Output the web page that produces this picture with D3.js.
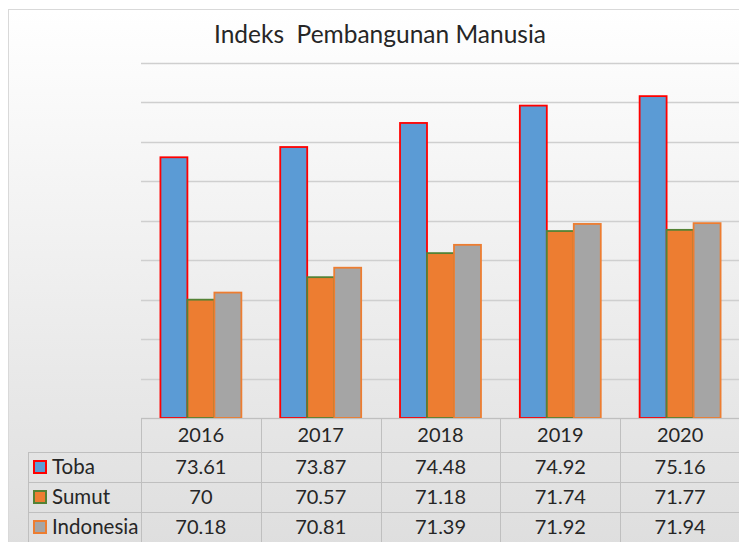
<!DOCTYPE html>
<html>
<head>
<meta charset="utf-8">
<script src="https://cdn.jsdelivr.net/npm/d3@7"></script>
<style>
  body { margin: 0; background: #fff; }
  text { font-family: Lato, "Open Sans", sans-serif; fill: #262626; }
</style>
</head>
<body>
<div id="chart-area"></div>
<script>
// Data
var years = ["2016", "2017", "2018", "2019", "2020"];
var seriesNames = ["Toba", "Sumut", "Indonesia"];
var toba = [73.61, 73.87, 74.48, 74.92, 75.16];
var sumut = [70, 70.57, 71.18, 71.74, 71.77];
var indonesia = [70.18, 70.81, 71.39, 71.92, 71.94];
var gridValues = [67, 68, 69, 70, 71, 72, 73, 74, 75, 76];

var seriesValues = [toba, sumut, indonesia];
var fills = ["#5b9bd5", "#ed7d31", "#a5a5a5"];
var strokes = ["#ff0000", "#548235", "#ed7d31"];

var W = 739, H = 542;
var plot = {left: 141, right: 740, top: 63, bottom: 418};

var svg = d3.select("#chart-area")
    .append("svg")
    .attr("width", W)
    .attr("height", H);

// Background gradient of the chart area
var defs = svg.append("defs");
var grad = defs.append("linearGradient")
    .attr("id", "bg")
    .attr("x1", "0%").attr("y1", "0%")
    .attr("x2", "0%").attr("y2", "100%");
grad.append("stop").attr("offset", "0%").attr("stop-color", "#ffffff");
grad.append("stop").attr("offset", "100%").attr("stop-color", "#dcdcdc");

svg.append("rect")
    .attr("x", 8.5).attr("y", 9.5)
    .attr("width", W + 20).attr("height", H + 30)
    .attr("fill", "url(#bg)")
    .attr("stroke", "#d9d9d9");

// Scales
var x = d3.scaleBand()
    .domain(years)
    .range([plot.left, plot.right])
    .paddingInner(0).paddingOuter(0);

var xs = d3.scaleBand()
    .domain(seriesNames)
    .range([0, x.bandwidth()])
    .paddingInner(0).paddingOuter(0.72);

var y = d3.scaleLinear()
    .domain([67, 76])
    .range([plot.bottom, plot.top]);

// Gridlines
svg.append("g")
    .selectAll("line")
    .data(gridValues)
    .enter()
    .append("line")
    .attr("x1", plot.left)
    .attr("x2", W)
    .attr("y1", d => Math.round(y(d)) + 0.5)
    .attr("y2", d => Math.round(y(d)) + 0.5)
    .attr("stroke", "#cfcfcf")
    .attr("stroke-width", 1.5);

// Bars
var rows = [];
years.forEach(function(yr, i) {
    seriesNames.forEach(function(s, j) {
        rows.push({year: yr, series: s, value: seriesValues[j][i], k: j});
    });
});

svg.append("g")
    .selectAll("rect")
    .data(rows)
    .enter()
    .append("rect")
    .attr("x", d => x(d.year) + xs(d.series))
    .attr("y", d => y(d.value))
    .attr("width", xs.bandwidth())
    .attr("height", d => y(67) - y(d.value))
    .attr("fill", d => fills[d.k])
    .attr("stroke", d => strokes[d.k])
    .attr("stroke-width", 1.8);

// Title
svg.append("text")
    .attr("x", 380)
    .attr("y", 43)
    .attr("text-anchor", "middle")
    .style("font-size", "24.5px")
    .style("white-space", "pre")
    .text("Indeks  Pembangunan Manusia");

// Data table
var tableLeft = 28;
var rowLines = [418, 452, 482, 512, 542];
var lineColor = "#bfbfbf";
var table = svg.append("g");

// horizontal lines
rowLines.forEach(function(ly, i) {
    table.append("line")
        .attr("x1", i === 0 ? plot.left : tableLeft)
        .attr("x2", W)
        .attr("y1", ly + 0.5).attr("y2", ly + 0.5)
        .attr("stroke", lineColor);
});
// vertical lines
table.append("line")
    .attr("x1", tableLeft + 0.5).attr("x2", tableLeft + 0.5)
    .attr("y1", rowLines[1]).attr("y2", H)
    .attr("stroke", lineColor);
years.forEach(function(yr) {
    var lx = Math.round(x(yr)) + 0.5;
    table.append("line")
        .attr("x1", lx).attr("x2", lx)
        .attr("y1", rowLines[0]).attr("y2", H)
        .attr("stroke", lineColor);
});

// header years
table.selectAll(".yr")
    .data(years)
    .enter()
    .append("text")
    .attr("class", "yr")
    .attr("x", d => x(d) + x.bandwidth() / 2)
    .attr("y", 442)
    .attr("text-anchor", "middle")
    .style("font-size", "20px")
    .text(d => d);

var baselines = [474, 504, 534];
seriesNames.forEach(function(s, j) {
    // legend key
    table.append("rect")
        .attr("x", 34).attr("y", baselines[j] - 13)
        .attr("width", 12).attr("height", 12)
        .attr("fill", fills[j])
        .attr("stroke", strokes[j])
        .attr("stroke-width", 2);
    table.append("text")
        .attr("x", 52)
        .attr("y", baselines[j])
        .style("font-size", "20.5px")
        .text(s);
    table.selectAll(".v" + j)
        .data(seriesValues[j])
        .enter()
        .append("text")
        .attr("x", (d, i) => x(years[i]) + x.bandwidth() / 2)
        .attr("y", baselines[j])
        .attr("text-anchor", "middle")
        .style("font-size", "20px")
        .text(d => d);
});
</script>
</body>
</html>
